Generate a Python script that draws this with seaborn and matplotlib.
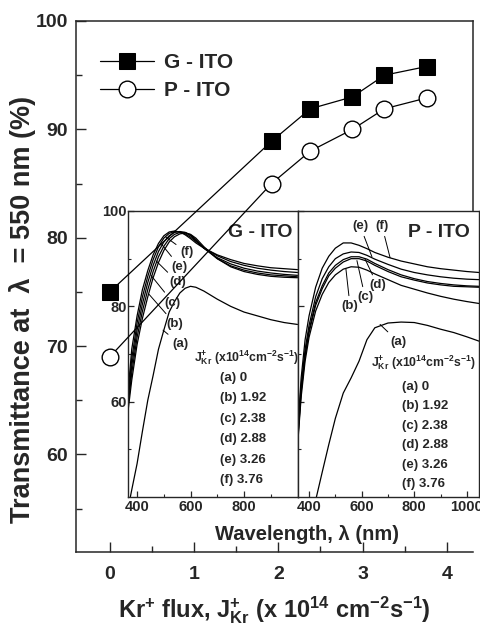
import matplotlib
matplotlib.use("Agg")
import matplotlib.pyplot as plt
import pandas as pd
import seaborn as sns

# Main plot: transmittance at 550 nm vs Kr+ flux
flux = [0, 1.92, 2.38, 2.88, 3.26, 3.76]
g_ito_550 = [75.0, 88.9, 91.9, 93.0, 95.0, 95.8]
p_ito_550 = [69.0, 85.0, 88.0, 90.0, 91.9, 92.9]

curve_names = ["(a)", "(b)", "(c)", "(d)", "(e)", "(f)"]
flux_values = ["0", "1.92", "2.38", "2.88", "3.26", "3.76"]

# Inset spectra, G-ITO
g_wavelength = [366, 380, 400, 420, 440, 460, 480, 500, 520, 540, 560,
                580, 600, 620, 650, 700, 750, 800, 850, 900, 950, 1000]
g_a = [37.5, 41.5, 47.0, 53.8, 60.3, 65.5, 71.0, 75.0, 78.8, 81.0, 82.8,
       83.8, 84.2, 84.0, 83.2, 81.5, 80.0, 78.8, 78.0, 77.2, 76.6, 76.2]
g_b = [58.0, 64.5, 72.0, 77.5, 82.0, 86.0, 89.2, 91.7, 93.5, 94.6, 95.2,
       95.4, 95.1, 94.3, 92.5, 90.0, 88.3, 87.3, 86.7, 86.3, 86.1, 86.0]
g_c = [59.0, 66.0, 73.5, 79.0, 83.5, 87.3, 90.4, 92.6, 94.2, 95.1, 95.5,
       95.5, 95.0, 94.0, 92.2, 90.0, 88.5, 87.6, 87.0, 86.6, 86.4, 86.2]
g_d = [60.0, 67.5, 75.0, 80.5, 85.0, 88.6, 91.5, 93.5, 94.8, 95.5, 95.7,
       95.5, 94.8, 93.8, 92.2, 90.2, 88.9, 88.0, 87.4, 87.0, 86.7, 86.5]
g_e = [61.0, 69.0, 76.5, 82.0, 86.3, 89.8, 92.5, 94.3, 95.3, 95.7, 95.6,
       95.2, 94.5, 93.6, 92.3, 90.6, 89.4, 88.6, 88.0, 87.6, 87.3, 87.1]
g_f = [62.0, 71.0, 78.0, 83.5, 87.5, 90.8, 93.2, 94.8, 95.6, 95.8, 95.6,
       95.0, 94.2, 93.3, 92.2, 90.8, 89.8, 89.0, 88.5, 88.1, 87.9, 87.7]

# Inset spectra, P-ITO
p_wavelength = [358, 370, 385, 400, 425, 450, 475, 500, 530, 560, 590,
                620, 650, 700, 750, 800, 850, 900, 950, 1000, 1046]
p_a = [22.0, 25.0, 29.5, 33.5, 39.3, 45.2, 51.0, 56.5, 61.8, 65.0, 68.5,
       73.0, 75.5, 76.5, 76.7, 76.6, 76.0, 75.2, 74.5, 73.6, 72.7]
p_b = [52.0, 61.0, 68.5, 73.5, 79.0, 82.5, 85.0, 86.6, 87.8, 88.3, 88.2,
       87.6, 86.8, 85.6, 84.4, 83.6, 82.8, 82.1, 81.5, 81.0, 80.6]
p_c = [52.5, 62.0, 69.5, 74.5, 80.2, 83.7, 86.4, 88.0, 89.3, 90.0, 90.0,
       89.5, 88.6, 87.3, 86.2, 85.5, 84.9, 84.5, 84.2, 84.1, 84.0]
p_d = [53.0, 62.5, 70.0, 75.0, 80.8, 84.3, 87.0, 88.6, 89.8, 90.4, 90.4,
       89.9, 89.0, 87.7, 86.6, 85.8, 85.2, 84.8, 84.5, 84.3, 84.2]
p_e = [54.0, 63.5, 71.0, 76.0, 82.0, 85.8, 88.3, 90.0, 91.0, 91.4, 91.3,
       90.7, 89.9, 88.8, 87.8, 87.1, 86.6, 86.2, 85.9, 85.7, 85.6]
p_f = [55.0, 65.0, 73.0, 78.0, 84.0, 88.0, 90.5, 92.2, 93.3, 93.3, 92.8,
       92.1, 91.3, 90.3, 89.5, 88.9, 88.3, 87.9, 87.6, 87.3, 87.1]

# curve label positions and pointer targets (wavelength, T)
g_label_pos = [(562, 72.0), (542, 76.3), (534, 80.8), (553, 85.0), (560, 88.3), (587, 91.3)]
g_label_tip = [(497, 75.0), (445, 82.5), (452, 86.5), (472, 89.5), (492, 93.0), (508, 94.5)]
p_label_pos = [(740, 72.5), (556, 80.0), (613, 81.9), (660, 84.4), (594, 96.9), (677, 96.9)]
p_label_tip = [(670, 76.2), (540, 87.9), (582, 89.6), (613, 89.9), (639, 90.4), (708, 90.2)]

BOLD = ["Liberation Sans", "DejaVu Sans"]


def spectra_frame(wavelength, curves):
    frames = []
    for name, values in zip(curve_names, curves):
        frames.append(pd.DataFrame({"wavelength": wavelength, "T": values, "curve": name}))
    return pd.concat(frames, ignore_index=True)


def draw_inset(ax, df, xlim, xticks, title, label_pos, label_tip,
               key_xy, list_x, list_y0, list_step):
    sns.lineplot(data=df, x="wavelength", y="T", units="curve", estimator=None,
                 sort=False, color="black", lw=0.9, ax=ax, legend=False)
    ax.set_xlim(*xlim)
    ax.set_ylim(40, 100)
    ax.set_xticks(xticks)
    ax.set_xticks([500, 700, 900], minor=True)
    ax.set_yticks([60, 80, 100])
    ax.set_yticks([50, 70, 90], minor=True)
    ax.set_xlabel("")
    ax.set_ylabel("")
    ax.tick_params(which="major", direction="in", length=4, width=0.9, labelsize=10.5)
    ax.tick_params(which="minor", direction="in", length=2.5, width=0.8)
    ax.tick_params(axis="x", pad=2)
    ax.tick_params(axis="y", pad=1)
    plt.setp(ax.get_xticklabels() + ax.get_yticklabels(), weight="bold")
    for spine in ax.spines.values():
        spine.set_linewidth(1.0)
        spine.set_visible(True)

    ax.text(0.78, 0.925, title, transform=ax.transAxes, ha="center", va="center",
            fontsize=14, weight="bold")
    for name, pos, tip in zip(curve_names, label_pos, label_tip):
        ax.annotate(name, xy=tip, xytext=pos, ha="center", va="center",
                    fontsize=9.5, weight="bold",
                    arrowprops=dict(arrowstyle="-", lw=0.7, color="black",
                                    shrinkA=1, shrinkB=0))
    ax.text(key_xy[0], key_xy[1], r"J$_{Kr}^{+}$ (x10$^{14}$cm$^{-2}$s$^{-1}$)",
            transform=ax.transAxes, ha="center", va="center",
            fontsize=8.8, weight="bold")
    for i, (name, val) in enumerate(zip(curve_names, flux_values)):
        ax.text(list_x, list_y0 - list_step * i, f"{name} {val}", transform=ax.transAxes,
                ha="left", va="center", fontsize=9.5, weight="bold")


def main() -> None:
    sns.set_style("ticks")
    plt.rcParams["font.family"] = BOLD
    plt.rcParams["font.weight"] = "bold"
    plt.rcParams["mathtext.fontset"] = "custom"
    plt.rcParams["mathtext.rm"] = "Liberation Sans:bold"
    plt.rcParams["mathtext.it"] = "Liberation Sans:bold"
    plt.rcParams["mathtext.bf"] = "Liberation Sans:bold"
    plt.rcParams["mathtext.default"] = "rm"

    fig = plt.figure(figsize=(4.81, 6.31), dpi=100)
    fig.patch.set_facecolor("white")

    main_box = [76 / 481, 1 - 552 / 631, 397 / 481, 531 / 631]
    left_box = [128 / 481, 1 - 497 / 631, 170 / 481, 286 / 631]
    right_box = [298 / 481, 1 - 497 / 631, 181 / 481, 286 / 631]

    ax_g = fig.add_axes(left_box, zorder=1)
    ax_p = fig.add_axes(right_box, zorder=1)
    ax = fig.add_axes(main_box, zorder=3)
    ax.set_facecolor("none")

    g_df = spectra_frame(g_wavelength, [g_a, g_b, g_c, g_d, g_e, g_f])
    p_df = spectra_frame(p_wavelength, [p_a, p_b, p_c, p_d, p_e, p_f])

    draw_inset(ax_g, g_df, (366, 1002), [400, 600, 800], "G - ITO",
               g_label_pos, g_label_tip, (0.70, 0.486), 0.541, 0.416, 0.0713)
    draw_inset(ax_p, p_df, (358, 1046), [400, 600, 800, 1000], "P - ITO",
               p_label_pos, p_label_tip, (0.696, 0.469), 0.575, 0.385, 0.068)
    ax_p.tick_params(axis="y", labelleft=False)

    fig.text(307 / 481, 1 - 535 / 631, "Wavelength, λ (nm)", ha="center", va="center",
             fontsize=14.5, weight="bold")

    # main curves
    sns.lineplot(x=flux, y=g_ito_550, marker="s", markersize=11, color="black",
                 markerfacecolor="black", markeredgecolor="black", lw=0.9,
                 label="G - ITO", ax=ax)
    sns.lineplot(x=flux, y=p_ito_550, marker="o", markersize=12, color="black",
                 markerfacecolor="white", markeredgecolor="black", markeredgewidth=1,
                 lw=0.9, label="P - ITO", ax=ax)

    ax.set_xlim(-0.4, 4.31)
    ax.set_ylim(51, 100)
    ax.set_xticks([0, 1, 2, 3, 4])
    ax.set_xticks([0.5, 1.5, 2.5, 3.5], minor=True)
    ax.set_yticks([60, 70, 80, 90, 100])
    ax.set_yticks([55, 65, 75, 85, 95], minor=True)
    ax.tick_params(which="major", direction="in", length=7, width=1, labelsize=14)
    ax.tick_params(which="minor", direction="in", length=4, width=1)
    ax.tick_params(axis="x", pad=10)
    ax.tick_params(axis="y", pad=6)
    for spine in ax.spines.values():
        spine.set_linewidth(1.1)
        spine.set_visible(True)

    # hide the part of the right spine that sits behind the insets
    inset_top = ax.transData.inverted().transform(
        fig.transFigure.transform((0, left_box[1] + left_box[3])))[1]
    ax.spines["right"].set_bounds(inset_top, 100)

    ax.set_xlabel(r"Kr$^{+}$ flux, J$_{Kr}^{+}$ (x 10$^{14}$ cm$^{-2}$s$^{-1}$)",
                  fontsize=17, weight="bold", labelpad=8)
    ax.set_ylabel("Transmittance at  λ  = 550 nm (%)", fontsize=19.5, weight="bold")
    ax.yaxis.set_label_coords(-0.1, 0.456)

    ax.legend(loc="upper left", bbox_to_anchor=(0.06, 0.94), frameon=False,
              prop=dict(weight="bold", size=15, family=BOLD), handlelength=2.6,
              handletextpad=0.5, labelspacing=0.45, borderpad=0, borderaxespad=0)

    fig.savefig("out.png", dpi=100)


if __name__ == "__main__":
    main()
